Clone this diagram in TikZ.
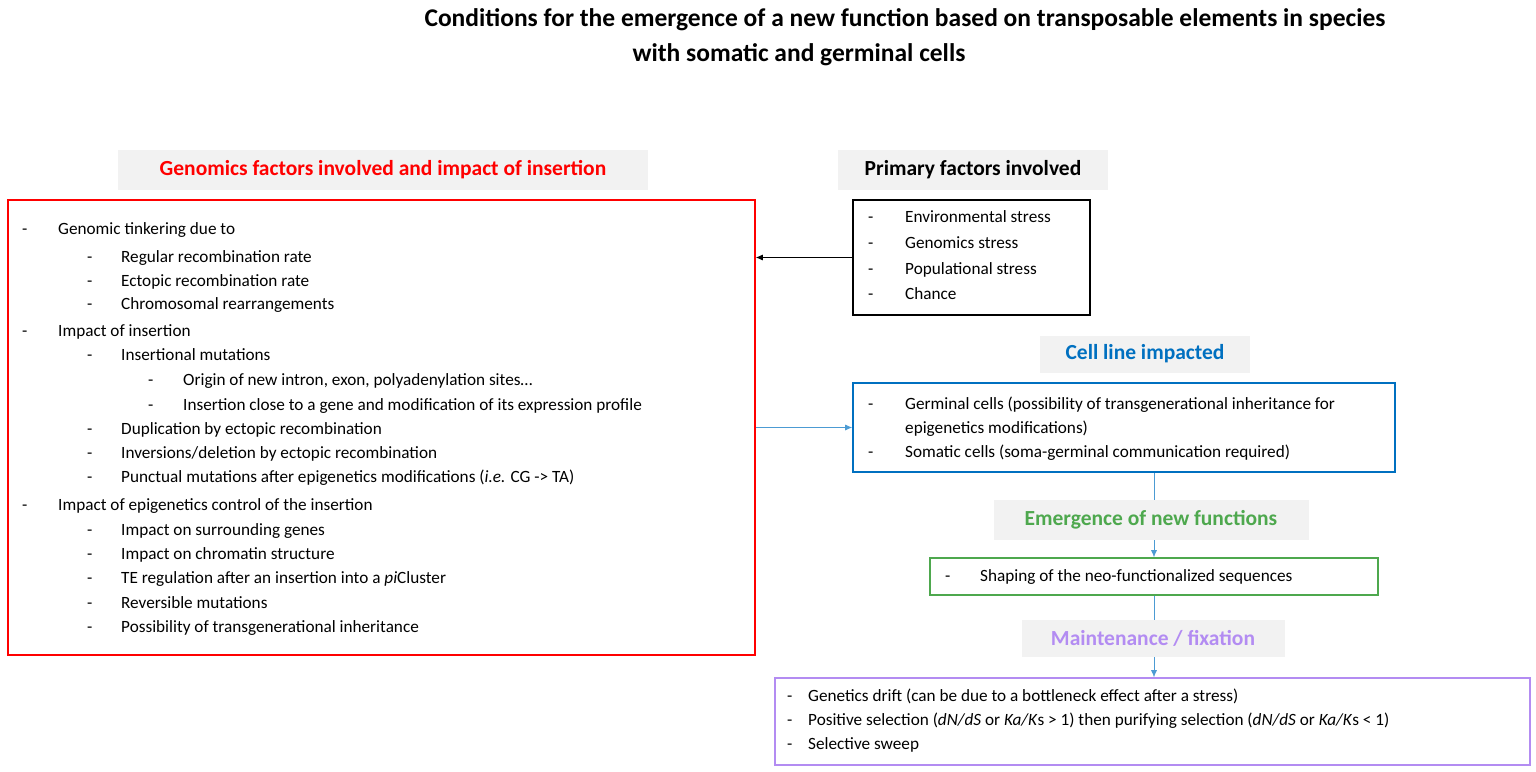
\documentclass[tikz,border=0pt]{standalone}
\usepackage{fontspec}
\setmainfont{Carlito}
\usetikzlibrary{arrows.meta}
\definecolor{tred}{HTML}{FF0000}
\definecolor{tblue}{HTML}{0070C0}
\definecolor{tgreen}{HTML}{4EA84E}
\definecolor{tpurple}{HTML}{B38CF2}
\definecolor{hbg}{HTML}{F2F2F2}
\begin{document}
\begin{tikzpicture}[x=1pt,y=-1pt,
  t/.style={anchor=west,inner sep=0pt,text height=12pt,text depth=4pt,font=\fontsize{17.2}{19}\selectfont},
  head/.style={fill=hbg,inner sep=0pt,font=\bfseries\fontsize{21.5}{24}\selectfont},
  box/.style={draw,line width=1.6pt},
  arr/.style={-{Latex[length=7pt,width=6pt]},line width=0.8pt}]
\useasboundingbox (0,0) rectangle (1536,771);
\node[font=\bfseries\fontsize{25.5}{30}\selectfont] (title1) at (905,20) {Conditions for the emergence of a new function based on transposable elements in species};
\node[font=\bfseries\fontsize{25.5}{30}\selectfont] (title2) at (799,55) {with somatic and germinal cells};
% headings
\node[head,text=tred,minimum width=530pt,minimum height=40pt] (hr) at (383,170) {Genomics factors involved and impact of insertion};
\node[head,minimum width=270pt,minimum height=40pt] (hk) at (973,170) {Primary factors involved};
% boxes
\node[box,draw=tred,minimum width=747pt,minimum height=455pt] (rb) at (381.5,427.5) {};
\node[box,draw=black,minimum width=237pt,minimum height=115pt] (kb) at (971.5,257.5) {};
\node[box,draw=tblue,minimum width=542pt,minimum height=89pt] (bb) at (1124,427.5) {};
\node[box,draw=tgreen,minimum width=448pt,minimum height=37pt] (gb) at (1154,576.5) {};
\node[box,draw=tpurple,minimum width=755pt,minimum height=87pt] (pb) at (1152.5,721.5) {};
% connectors
\draw[arr,black] (kb.west) -- (rb.east|-kb.west);
\draw[arr,tblue!70] (rb.east|-bb.west) -- (bb.west);
\draw[arr,tblue!70,line width=0.6pt] (bb.south-|gb.north) -- (gb.north);
\draw[arr,tblue!70,line width=0.6pt] (gb.south) -- (gb.south|-pb.north);
\node[head,text=tblue,minimum width=210pt,minimum height=37pt] (hb) at (1145,354) {Cell line impacted};
\node[head,text=tgreen,minimum width=315pt,minimum height=40pt] (hg) at (1151,520) {Emergence of new functions};
\node[head,text=tpurple,minimum width=263pt,minimum height=37pt] (hp) at (1153,638) {Maintenance / fixation};
% red box text
\foreach \y/\l/\s [count=\i] in {
230/1/Genomic tinkering due to,
258/2/Regular recombination rate,
282/2/Ectopic recombination rate,
305/2/Chromosomal rearrangements,
332/1/Impact of insertion,
356/2/Insertional mutations,
381/3/{Origin of new intron, exon, polyadenylation sites…},
406/3/Insertion close to a gene and modification of its expression profile,
430/2/Duplication by ectopic recombination,
454/2/{Inversions/deletion by ectopic recombination},
478/2/{Punctual mutations after epigenetics modifications (\textit{i.e.} CG -> TA)},
506/1/Impact of epigenetics control of the insertion,
531/2/Impact on surrounding genes,
555/2/Impact on chromatin structure,
579/2/{TE regulation after an insertion into a \textit{pi}Cluster},
604/2/Reversible mutations,
628/2/Possibility of transgenerational inheritance}{
  \ifcase\l\or
    \node[t] (rd\i) at (22,\y) {-}; \node[t] (rt\i) at (58,\y) {\s};
  \or
    \node[t] (rd\i) at (87,\y) {-}; \node[t] (rt\i) at (121,\y) {\s};
  \or
    \node[t] (rd\i) at (148,\y) {-}; \node[t] (rt\i) at (183,\y) {\s};
  \fi
}
% black box
\foreach \y/\s [count=\i] in {218/Environmental stress,244/Genomics stress,270/Populational stress,295/Chance}{
  \node[t] (kd\i) at (868,\y) {-}; \node[t] (kt\i) at (905,\y) {\s};}
% blue box
\node[t] (bd1) at (868,405) {-};
\node[t] (bt1) at (905,405) {Germinal cells (possibility of transgenerational inheritance for};
\node[t] (bt2) at (905,429) {epigenetics modifications)};
\node[t] (bd3) at (868,453) {-};
\node[t] (bt3) at (905,453) {Somatic cells (soma-germinal communication required)};
% green
\node[t] (gd) at (945,577) {-};
\node[t] (gt) at (980,577) {Shaping of the neo-functionalized sequences};
% purple
\node[t] (pd1) at (787,697) {-};
\node[t] (pt1) at (808,697) {Genetics drift (can be due to a bottleneck effect after a stress)};
\node[t] (pd2) at (787,721) {-};
\node[t] (pt2) at (808,721) {Positive selection (\textit{dN/dS} or \textit{Ka/K}s > 1) then purifying selection (\textit{dN/dS} or \textit{Ka/K}s < 1)};
\node[t] (pd3) at (787,745) {-};
\node[t] (pt3) at (808,745) {Selective sweep};
\end{tikzpicture}
\end{document}
